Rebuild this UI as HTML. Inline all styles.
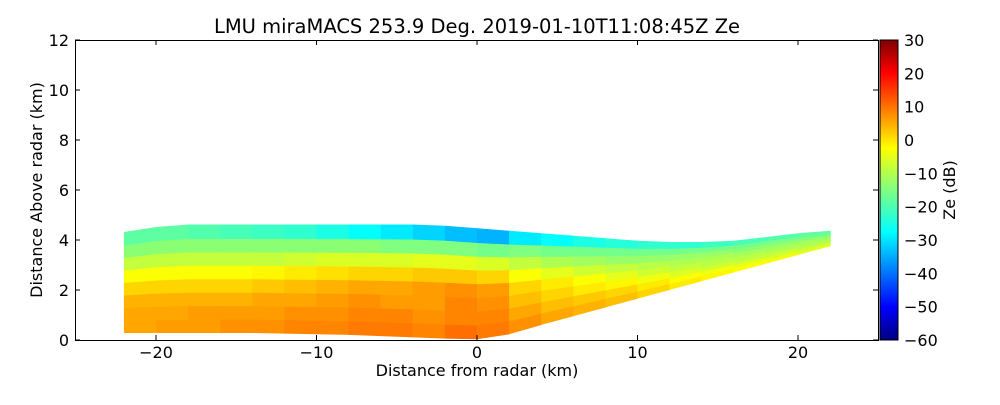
<!DOCTYPE html>
<html><head><meta charset="utf-8"><style>
body{margin:0;background:#fff;}
svg text{font-family:"DejaVu Sans","Liberation Sans",sans-serif;fill:#000;}
</style></head><body>
<svg id="c" width="1000" height="400">
<defs><linearGradient id="jet" x1="0" y1="1" x2="0" y2="0">
<stop offset="0" stop-color="#00007f"/><stop offset="0.11" stop-color="#0000ff"/>
<stop offset="0.36" stop-color="#00ffff"/><stop offset="0.5" stop-color="#80ff80"/>
<stop offset="0.64" stop-color="#ffff00"/><stop offset="0.89" stop-color="#ff0000"/>
<stop offset="1" stop-color="#7f0000"/></linearGradient></defs>
<g id="cells"></g>
<rect x="75.5" y="40.5" width="803" height="300" fill="none" stroke="#000"/>
<g id="axes"></g>
<text x="477" y="33" font-size="19.5" text-anchor="middle">LMU miraMACS 253.9 Deg. 2019-01-10T11:08:45Z  Ze</text>
<text x="477" y="376" font-size="16" text-anchor="middle">Distance from radar (km)</text>
<text transform="translate(42,190) rotate(-90)" font-size="16" text-anchor="middle">Distance Above radar  (km)</text>
<rect x="880" y="40" width="18" height="300" fill="url(#jet)" stroke="#000"/>
<text transform="translate(955,190) rotate(-90)" font-size="16" text-anchor="middle">Ze (dB)</text>
</svg>
<script>
const xCenters=[-21,-19,-17,-15,-13,-11,-9,-7,-5,-3,-1,1,3,5,7,9,11,13,15,17,19,21];
const bottoms=[0.3,0.3,0.3,0.3,0.3,0.25,0.25,0.2,0.15,0.1,0.05,0.05,0.45,0.8,1.15,1.5,1.85,2.2,2.55,2.9,3.25,3.6];
const tops=[4.4,4.6,4.6,4.6,4.6,4.6,4.6,4.6,4.6,4.6,4.5,4.4,4.3,4.2,4.1,4.0,3.9,3.9,3.9,4.0,4.2,4.3];
const values=[
[4,4,3,0,-4,-9,-14,-18],[5,4,3,0,-4,-9,-14,-18],[5,5,3,0,-4,-9,-14,-19],[6,5,3,0,-4,-9,-14,-20],
[6,5,4,1,-3,-9,-14,-21],[7,6,4,2,-2,-8,-14,-22],[7,6,5,3,-1,-7,-14,-24],[8,7,6,4,0,-7,-14,-26],
[8,7,5,4,0,-7,-15,-28],[7,6,5,5,1,-6,-15,-30],[9,7,7,6,1,-6,-15,-32],[8,7,6,5,0,-7,-16,-33],
[6,4,2,0,-4,-9,-15,-28],[4,2,0,-2,-6,-11,-16,-26],[3,1,-2,-4,-8,-12,-16,-24],[2,0,-3,-6,-9,-13,-16,-23],
[0,-2,-5,-8,-10,-13,-16,-22],[-2,-4,-7,-9,-11,-13,-16,-22],[-3,-5,-8,-10,-11,-13,-16,-21],[-4,-6,-9,-10,-12,-14,-16,-20],
[-5,-7,-9,-11,-12,-14,-16,-19],[-6,-8,-10,-11,-12,-14,-16,-18]];
const xTicks=[-20,-10,0,10,20];
const yTicks=[0,2,4,6,8,10,12];
const cbTicks=[-60,-50,-40,-30,-20,-10,0,10,20,30];
const NS="http://www.w3.org/2000/svg";
const xs=v=>477+(v)*16.05, ys=v=>340-v*25, cs=v=>340-(v+60)/90*300;
function jet(v){let t=(v+60)/90;t=Math.max(0,Math.min(1,t));
const f=x=>Math.round(255*Math.max(0,Math.min(1,1.5-Math.abs(4*t-x))));
return `rgb(${f(3)},${f(2)},${f(1)})`;}
const cg=document.getElementById('cells');
const n=xCenters.length;
function edge(arr,i,side){const j=i+side;if(j<0||j>=n)return arr[i]+(arr[i]-arr[i-side])/2;return (arr[i]+arr[j])/2;}
xCenters.forEach((xc,i)=>{const L=values[i].length;
const bl=edge(bottoms,i,-1),br=edge(bottoms,i,1),tl=edge(tops,i,-1),tr=edge(tops,i,1);
const xl=xs(xc-1),xr=xs(xc+1)+0.6;
values[i].forEach((v,j)=>{
const a=j/L,b=(j+1)/L;
const yl0=ys(bl+(tl-bl)*a)+0.5,yl1=ys(bl+(tl-bl)*b),yr0=ys(br+(tr-br)*a)+0.5,yr1=ys(br+(tr-br)*b);
const p=document.createElementNS(NS,'polygon');
p.setAttribute('points',`${xl},${yl0} ${xr},${yr0} ${xr},${yr1-0.5} ${xl},${yl1-0.5}`);
p.setAttribute('fill',jet(v));


cg.appendChild(p);});});
const ag=document.getElementById('axes');
function add(tag,at,txt){const e=document.createElementNS(NS,tag);for(const k in at)e.setAttribute(k,at[k]);if(txt!==undefined)e.textContent=txt;ag.appendChild(e);return e;}
xTicks.forEach(v=>{const x=xs(v);
add('line',{x1:x,x2:x,y1:340,y2:335,stroke:'#000'});add('line',{x1:x,x2:x,y1:40,y2:45,stroke:'#000'});
const t=add('text',{x:x,y:358,'font-size':16,'text-anchor':'middle'},v<0?'\u2212'+(-v):v);

});
yTicks.forEach(v=>{const y=ys(v);
add('line',{x1:75,x2:80,y1:y,y2:y,stroke:'#000'});add('line',{x1:878,x2:873,y1:y,y2:y,stroke:'#000'});
const t=add('text',{x:69,y:y+6,'font-size':16,'text-anchor':'end'},v);

});
cbTicks.forEach(v=>{const y=cs(v);
add('line',{x1:894,x2:898,y1:y,y2:y,stroke:'#000'});
const t=add('text',{x:904,y:y+6,'font-size':16},v<0?'\u2212'+(-v):v);

});
</script>
</body></html>
